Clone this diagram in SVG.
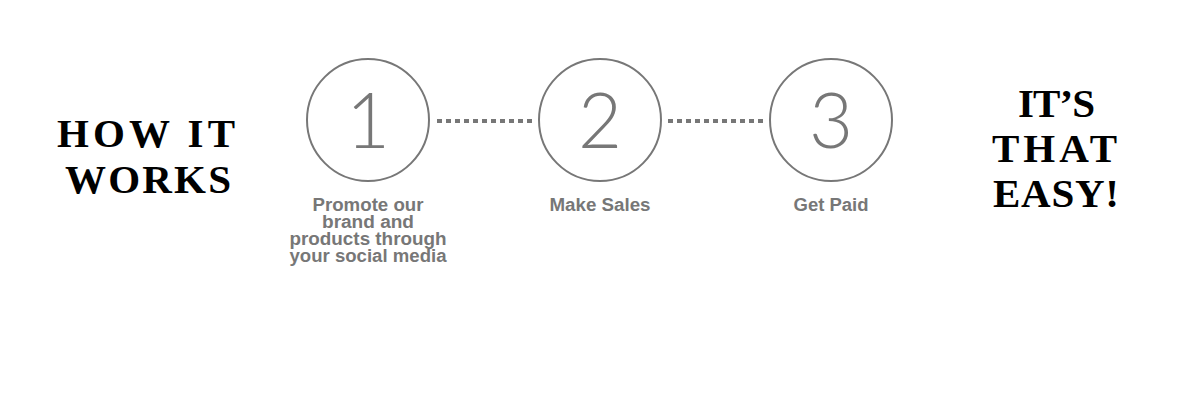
<svg xmlns="http://www.w3.org/2000/svg" width="1200" height="400" viewBox="0 0 1200 400">
<style>
.title{font-family:"Liberation Serif",serif;font-weight:bold;font-size:41px;fill:#000}
.ring{fill:none;stroke:#777;stroke-width:2}
.num{font-family:Lato,"Noto Sans",sans-serif;font-weight:300;font-size:76px;fill:#777;text-anchor:middle}
.lbl{font-family:"Liberation Sans",Arial,sans-serif;font-weight:bold;font-size:17.5px;fill:#777;text-anchor:middle}
.dots{stroke:#777;stroke-width:4;stroke-dasharray:5 4;fill:none}
</style>
<rect width="1200" height="400" fill="#fff"/>
<g id="title-left">
<text class="title" x="57" y="147" textLength="178" lengthAdjust="spacing">HOW IT</text>
<text class="title" x="65" y="193" textLength="166" lengthAdjust="spacing">WORKS</text>
</g>
<g id="connectors">
<line class="dots" x1="437" y1="121" x2="533" y2="121"/>
<line class="dots" x1="668" y1="121" x2="764" y2="121"/>
</g>
<g id="step1">
<circle class="ring" cx="368" cy="120" r="61"/>
<text class="num" x="368" y="148">1</text>
<text class="lbl" y="211"><tspan x="368" textLength="111" lengthAdjust="spacingAndGlyphs">Promote our</tspan><tspan x="368" dy="17" textLength="92" lengthAdjust="spacingAndGlyphs">brand and</tspan><tspan x="368" dy="17" textLength="157" lengthAdjust="spacingAndGlyphs">products through</tspan><tspan x="368" dy="17" textLength="157" lengthAdjust="spacingAndGlyphs">your social media</tspan></text>
</g>
<g id="step2">
<circle class="ring" cx="600" cy="120" r="61"/>
<text class="num" x="600" y="148">2</text>
<text class="lbl" x="600" y="211" textLength="101" lengthAdjust="spacingAndGlyphs">Make Sales</text>
</g>
<g id="step3">
<circle class="ring" cx="831" cy="120" r="61"/>
<text class="num" x="831" y="148">3</text>
<text class="lbl" x="831" y="211" textLength="75" lengthAdjust="spacingAndGlyphs">Get Paid</text>
</g>
<g id="title-right">
<text class="title" x="1018" y="117" textLength="77" lengthAdjust="spacing">IT’S</text>
<text class="title" x="992" y="162" textLength="125" lengthAdjust="spacing">THAT</text>
<text class="title" x="993" y="207" textLength="126" lengthAdjust="spacing">EASY!</text>
</g>
</svg>
